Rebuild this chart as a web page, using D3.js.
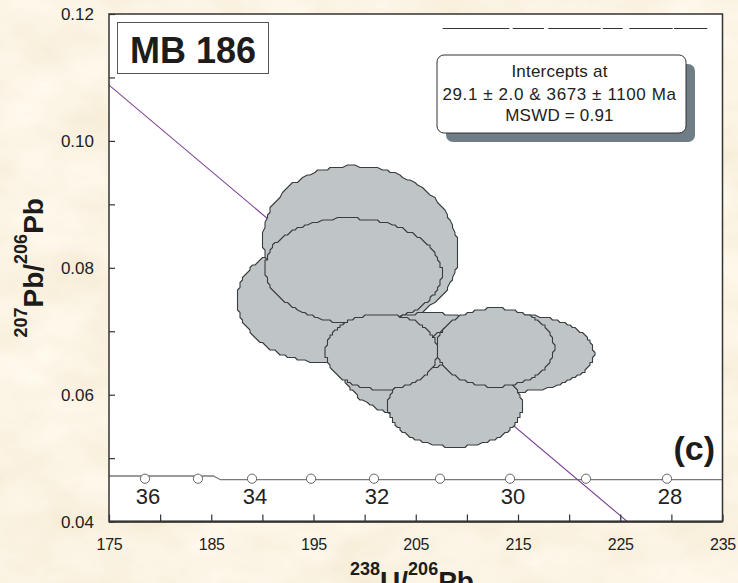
<!DOCTYPE html>
<html>
<head>
<meta charset="utf-8">
<script src="https://cdn.jsdelivr.net/npm/d3@7"></script>
<style>
  html, body { margin: 0; padding: 0; background: #f6e4c4; }
  svg { display: block; font-family: "Liberation Sans", Arial, sans-serif; }
</style>
</head>
<body>
<svg id="chart" width="738" height="583"></svg>
<script>
// MB 186 — Tera–Wasserburg concordia diagram with discordia regression

const sampleName = "MB 186";
const panelTag = "(c)";
const resultLines = ["Intercepts at", "29.1 ± 2.0 & 3673 ± 1100 Ma", "MSWD = 0.91"];

// axes
const xDomain = [175, 235];
const yDomain = [0.04, 0.12];
const xTickValues = [175, 180, 185, 190, 195, 200, 205, 210, 215, 220, 225, 230, 235];
const xLabelValues = [175, 185, 195, 205, 215, 225, 235];
const yTickValues = [0.04, 0.05, 0.06, 0.07, 0.08, 0.09, 0.10, 0.11, 0.12];
const yLabelValues = [0.04, 0.06, 0.08, 0.10, 0.12];

// concordia curve (238U/206Pb vs 207Pb/206Pb)
const concordiaX = [175, 185.2, 185.9, 235];
const concordiaY = [0.04719, 0.04719, 0.04660, 0.04660];

// concordia age markers (Ma)
const markerAges = [36, 35, 34, 33, 32, 31, 30, 29, 28];
const markerX = [178.52, 183.70, 188.99, 194.76, 200.92, 207.37, 214.22, 221.65, 229.57];
const markerY = [0.04676, 0.04676, 0.04676, 0.04676, 0.04676, 0.04676, 0.04676, 0.04676, 0.04676];
const labelledAges = [36, 34, 32, 30, 28];

// discordia line
const discordiaX = [175, 225.7];
const discordiaY = [0.1088, 0.04];

// 2-sigma error ellipses, listed in drawing order
const ellCenterX = [195.64, 199.60, 198.89, 206.39, 214.22, 208.84, 201.65, 212.78];
const ellHalfX   = [8.12,   9.54,   8.64,   8.61,   8.22,   6.55,   5.46,   5.74];
const ellCenterY = [0.07430, 0.08344, 0.07953, 0.06452, 0.06657, 0.05825, 0.06678, 0.06744];
const ellHalfY   = [0.00930, 0.01261, 0.00827, 0.00835, 0.00615, 0.00646, 0.00594, 0.00618];
const ellRho     = [-0.07, -0.085, -0.05, 0, 0, 0, 0, 0];

const svg = d3.select("#chart");
const W = 738, H = 583;
const plot = { left: 109, right: 722.5, top: 14, bottom: 521.6 };

const x = d3.scaleLinear().domain(xDomain).range([plot.left, plot.right]);
const y = d3.scaleLinear().domain(yDomain).range([plot.bottom, plot.top]);

// parchment background
const defs = svg.append("defs");
const paper = defs.append("filter").attr("id", "paper")
  .attr("x", 0).attr("y", 0).attr("width", "100%").attr("height", "100%");
paper.append("feTurbulence").attr("type", "fractalNoise")
  .attr("baseFrequency", "0.012 0.02").attr("numOctaves", 4).attr("seed", 7);
paper.append("feColorMatrix").attr("type", "matrix")
  .attr("values",
    "0.13 0 0 0 0.900  " +
    "0.18 0 0 0 0.810  " +
    "0.30 0 0 0 0.620  " +
    "0 0 0 0 1");
svg.append("rect").attr("width", W).attr("height", H).attr("filter", "url(#paper)");

defs.append("clipPath").attr("id", "plotClip")
  .append("rect")
  .attr("x", plot.left).attr("y", plot.top)
  .attr("width", plot.right - plot.left).attr("height", plot.bottom - plot.top);

// plot field
svg.append("rect")
  .attr("x", plot.left).attr("y", plot.top)
  .attr("width", plot.right - plot.left).attr("height", plot.bottom - plot.top)
  .attr("fill", "#ffffff");

const inner = svg.append("g").attr("clip-path", "url(#plotClip)");

// concordia curve
const line = d3.line().x(d => x(d[0])).y(d => y(d[1]));
inner.append("path")
  .datum(concordiaX.map((v, i) => [v, concordiaY[i]]))
  .attr("d", line)
  .attr("fill", "none").attr("stroke", "#7a7a7a").attr("stroke-width", 1.3);

// discordia
inner.append("path")
  .datum(discordiaX.map((v, i) => [v, discordiaY[i]]))
  .attr("d", line)
  .attr("fill", "none").attr("stroke", "#7b3f95").attr("stroke-width", 1.1);

// error ellipses, outlines snapped to a coarse grid like the plotting program's output
const N = 140, GRID = 2.5;
const snap = v => Math.round(v / GRID) * GRID;
const ellipsePath = i => {
  const pts = [];
  d3.range(N).forEach(k => {
    const t = 2 * Math.PI * k / N;
    const r = ellRho[i];
    const vx = ellCenterX[i] + ellHalfX[i] * Math.cos(t);
    const vy = ellCenterY[i] + ellHalfY[i] * (r * Math.cos(t) + Math.sqrt(1 - r * r) * Math.sin(t));
    const p = [snap(x(vx)), snap(y(vy))];
    const last = pts[pts.length - 1];
    if (!last || last[0] !== p[0] || last[1] !== p[1]) pts.push(p);
  });
  return "M" + pts.map(p => p.join(",")).join("L") + "Z";
};
inner.selectAll("path.ell")
  .data(d3.range(ellCenterX.length))
  .join("path")
  .attr("class", "ell")
  .attr("d", ellipsePath)
  .attr("fill", "#bfc4c7")
  .attr("stroke", "#3a3d3f").attr("stroke-width", 1.1)
  .attr("stroke-linejoin", "round");

// concordia age markers
inner.selectAll("circle.age")
  .data(markerAges)
  .join("circle")
  .attr("class", "age")
  .attr("cx", (d, i) => x(markerX[i]))
  .attr("cy", (d, i) => y(markerY[i]))
  .attr("r", 4.6)
  .attr("fill", "#ffffff").attr("stroke", "#555").attr("stroke-width", 0.9);

svg.selectAll("text.age")
  .data(labelledAges)
  .join("text")
  .attr("class", "age")
  .attr("x", d => x(markerX[markerAges.indexOf(d)]) + 3)
  .attr("y", d => y(markerY[markerAges.indexOf(d)]) + 25)
  .attr("text-anchor", "middle")
  .attr("font-size", 22).attr("fill", "#222")
  .text(d => d);

// axes
const xAxis = d3.axisBottom(x)
  .tickValues(xTickValues)
  .tickSizeInner(-7).tickSizeOuter(0).tickPadding(17)
  .tickFormat(d => xLabelValues.includes(d) ? d3.format("d")(d) : "");
const gx = svg.append("g").attr("transform", `translate(0,${plot.bottom})`).call(xAxis);
gx.select(".domain").remove();
gx.selectAll(".tick line").attr("stroke", "#333").attr("stroke-width", 1.2);
gx.selectAll(".tick text").attr("font-size", 16).attr("fill", "#222")
  .attr("font-family", "'Liberation Sans', Arial, sans-serif")
  .attr("letter-spacing", -0.3);

const yAxis = d3.axisLeft(y)
  .tickValues(yTickValues)
  .tickSizeInner(-6).tickSizeOuter(0).tickPadding(15)
  .tickFormat(d => yLabelValues.some(v => Math.abs(v - d) < 1e-9) ? d3.format(".2f")(d) : "");
const gy = svg.append("g").attr("transform", `translate(${plot.left},0)`).call(yAxis);
gy.select(".domain").remove();
gy.selectAll(".tick line").attr("stroke", "#333").attr("stroke-width", 1.2);
gy.selectAll(".tick text").attr("font-size", 17).attr("fill", "#222")
  .attr("font-family", "'Liberation Sans', Arial, sans-serif");

// frame
svg.append("rect")
  .attr("x", plot.left).attr("y", plot.top)
  .attr("width", plot.right - plot.left).attr("height", plot.bottom - plot.top)
  .attr("fill", "none").attr("stroke", "#333").attr("stroke-width", 1.5);
svg.append("line")
  .attr("x1", plot.left).attr("x2", plot.right)
  .attr("y1", plot.bottom).attr("y2", plot.bottom)
  .attr("stroke", "#333").attr("stroke-width", 2.2);

// sample name box
const nameBox = svg.append("g");
nameBox.append("rect")
  .attr("x", 117.5).attr("y", 22.5).attr("width", 151).attr("height", 51)
  .attr("fill", "#fff").attr("stroke", "#555").attr("stroke-width", 1);
nameBox.append("text")
  .attr("x", 193).attr("y", 63).attr("text-anchor", "middle")
  .attr("font-size", 36).attr("font-weight", "bold").attr("fill", "#1e1c1a")
  .text(sampleName);

// empty title rule
const ruleSegments = [[442.7, 509.3], [512.7, 544], [548.3, 600.7], [602.7, 622.7], [629.3, 672.7], [674, 707.3]];
svg.selectAll("line.rule").data(ruleSegments).join("line")
  .attr("class", "rule")
  .attr("x1", d => d[0]).attr("x2", d => d[1])
  .attr("y1", 28.5).attr("y2", 28.5)
  .attr("stroke", "#333").attr("stroke-width", 1);

// result box with drop shadow
const bx = 437, by = 55, bw = 249, bh = 78;
svg.append("rect")
  .attr("x", bx + 9).attr("y", by + 9).attr("width", bw).attr("height", bh)
  .attr("rx", 7).attr("fill", "#6e7d86");
svg.append("rect")
  .attr("x", bx).attr("y", by).attr("width", bw).attr("height", bh)
  .attr("rx", 7).attr("fill", "#fff").attr("stroke", "#333").attr("stroke-width", 1);
svg.selectAll("text.result").data(resultLines).join("text")
  .attr("class", "result")
  .attr("x", bx + bw / 2 - 2)
  .attr("y", (d, i) => [77, 99.5, 120.5][i])
  .attr("text-anchor", "middle")
  .attr("font-size", 17).attr("fill", "#222")
  .attr("letter-spacing", (d, i) => i === 1 ? 0.6 : 0.2)
  .text(d => d);

// panel tag
svg.append("text")
  .attr("x", 715).attr("y", 460).attr("text-anchor", "end")
  .attr("font-size", 34).attr("font-weight", "bold").attr("fill", "#1e1c1a")
  .text(panelTag);

// axis titles
function isotopeTitle(sel, parts) {
  parts.forEach(p => {
    sel.append("tspan")
      .attr("font-size", p.sup ? 18 : 28)
      .attr("dy", p.dy)
      .text(p.t);
  });
}
const yTitle = svg.append("text")
  .attr("transform", `translate(43,${(plot.top + plot.bottom) / 2}) rotate(-90)`)
  .attr("text-anchor", "middle")
  .attr("font-weight", "bold").attr("fill", "#1e1c1a");
isotopeTitle(yTitle, [
  { t: "207", sup: true, dy: -16 },
  { t: "Pb/", sup: false, dy: 16 },
  { t: "206", sup: true, dy: -16 },
  { t: "Pb", sup: false, dy: 16 }
]);

// x title sits at the lower page edge
const xTitle = svg.append("text")
  .attr("x", 412).attr("y", 591)
  .attr("text-anchor", "middle")
  .attr("font-weight", "bold").attr("fill", "#1e1c1a");
isotopeTitle(xTitle, [
  { t: "238", sup: true, dy: -16 },
  { t: "U/", sup: false, dy: 16 },
  { t: "206", sup: true, dy: -16 },
  { t: "Pb", sup: false, dy: 16 }
]);
</script>
</body>
</html>
